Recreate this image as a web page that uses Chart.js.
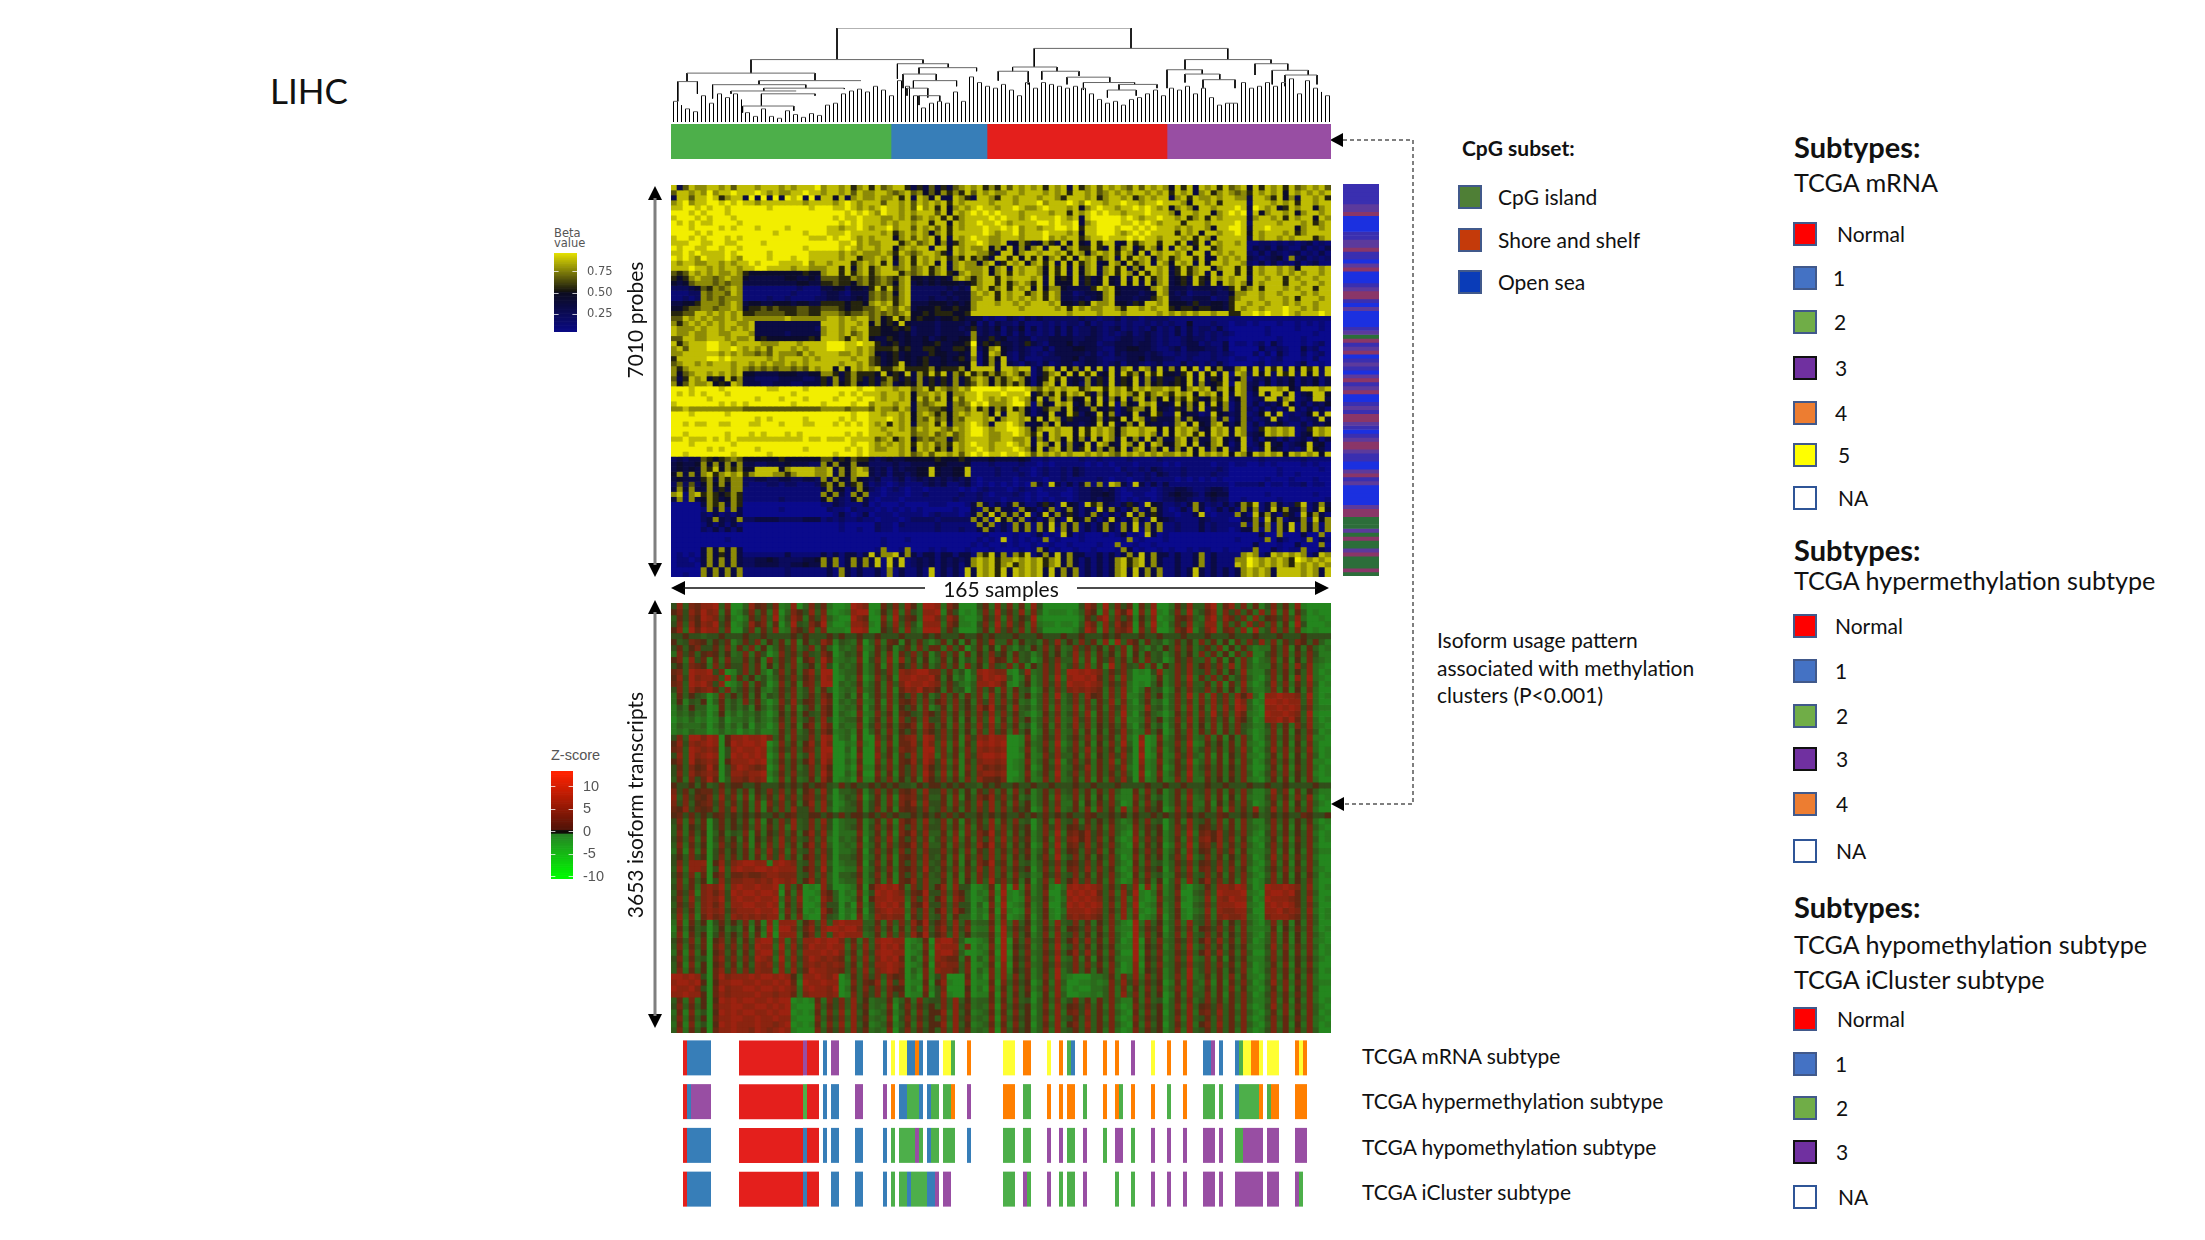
<!DOCTYPE html>
<html>
<head>
<meta charset="utf-8">
<title>LIHC</title>
<script src="https://cdn.jsdelivr.net/npm/chart.js@4/dist/chart.umd.min.js"></script>
<style>
body { margin: 0; background: #fff; }
#page { position: relative; width: 2205px; height: 1240px; overflow: hidden; font-family: Lato, sans-serif; color: #111; }
#page canvas { position: absolute; }
#page svg { position: absolute; left: 0; top: 0; }
.txt { position: absolute; white-space: nowrap; transform: translateY(calc(-50% - 1px)); }
.rot { position: absolute; white-space: nowrap; transform: translate(-50%, -50%) rotate(-90deg); }
.sw { position: absolute; box-sizing: border-box; width: 24px; height: 24px; border: 2px solid #41598b; }
</style>
</head>
<body>
<div id="page">
<svg width="2205" height="1240">
  <g fill="#000">
    <path d="M655 186 l7 14 h-14 z"/><path d="M655 577 l7 -14 h-14 z"/>
    <path d="M655 600 l7 14 h-14 z"/><path d="M655 1028 l7 -14 h-14 z"/>
    <path d="M671 588 l14 -7 v14 z"/><path d="M1329 588 l-14 -7 v14 z"/>
    <path d="M1330 140 l13 -7 v14 z"/><path d="M1331 804 l13 -7 v14 z"/>
  </g>
  <g stroke="#7f7f7f" stroke-width="3">
    <path d="M655 198 V565"/><path d="M655 612 V1016"/>
  </g>
  <path d="M683 588 H925 M1077 588 H1317" stroke="#111" stroke-width="1.6"/>
  <path d="M1343 140 H1413 V804 H1344" fill="none" stroke="#555" stroke-width="1.5" stroke-dasharray="4 3"/>
</svg>
</div>
<script>
// cluster colour bar
const clusterNames = ['Cluster 1', 'Cluster 2', 'Cluster 3', 'Cluster 4'];
const clusterSizes = [55, 24, 45, 41];

// subtype letters: N normal, b blue, g green, p purple, o orange, y yellow
const trackNames = ['TCGA mRNA subtype', 'TCGA hypermethylation subtype', 'TCGA hypomethylation subtype', 'TCGA iCluster subtype'];
const mrnaTrack = [[3,1,'N'],[4,6,'b'],[17,16,'N'],[33,1,'p'],[34,3,'N'],[38,1,'b'],[40,2,'p'],[46,2,'b'],[53,1,'b'],[55,1,'y'],[57,2,'y'],[59,2,'b'],[61,1,'o'],[62,1,'b'],[64,3,'b'],[68,2,'y'],[70,1,'g'],[74,1,'o'],[83,3,'y'],[88,2,'o'],[94,1,'y'],[97,1,'o'],[99,1,'g'],[100,1,'b'],[103,1,'o'],[108,1,'o'],[111,1,'o'],[115,1,'p'],[120,1,'y'],[124,1,'o'],[128,1,'o'],[133,2,'b'],[135,1,'p'],[137,1,'b'],[141,1,'b'],[142,1,'g'],[143,2,'y'],[145,2,'o'],[147,1,'y'],[149,3,'y'],[156,1,'o'],[157,1,'y'],[158,1,'o']];
const hyperTrack = [[3,1,'N'],[4,1,'b'],[5,5,'p'],[17,16,'N'],[33,1,'g'],[34,3,'N'],[38,1,'b'],[40,2,'b'],[46,2,'p'],[53,1,'p'],[55,1,'o'],[57,2,'b'],[59,3,'g'],[62,1,'b'],[64,1,'b'],[65,2,'g'],[68,2,'g'],[70,1,'o'],[74,1,'p'],[83,3,'o'],[88,2,'g'],[94,1,'o'],[97,1,'o'],[99,2,'o'],[103,1,'g'],[108,1,'o'],[111,1,'o'],[112,1,'g'],[115,1,'o'],[120,1,'o'],[124,1,'g'],[128,1,'o'],[133,3,'g'],[137,1,'g'],[141,1,'b'],[142,5,'g'],[147,1,'o'],[149,1,'g'],[150,2,'o'],[156,3,'o']];
const hypoTrack = [[3,1,'N'],[4,6,'b'],[17,16,'N'],[33,1,'b'],[34,3,'N'],[38,1,'b'],[40,2,'b'],[46,2,'b'],[53,1,'b'],[55,1,'g'],[57,4,'g'],[61,1,'p'],[62,1,'g'],[64,1,'b'],[65,2,'g'],[68,3,'g'],[74,1,'b'],[83,3,'g'],[88,2,'g'],[94,1,'p'],[97,1,'p'],[99,2,'g'],[103,1,'p'],[108,1,'g'],[111,2,'p'],[115,1,'g'],[120,1,'p'],[124,1,'p'],[128,1,'p'],[133,3,'p'],[137,1,'p'],[141,2,'g'],[143,5,'p'],[149,3,'p'],[156,3,'p']];
const iclusterTrack = [[3,1,'N'],[4,6,'b'],[17,16,'N'],[33,1,'b'],[34,3,'N'],[40,2,'b'],[46,2,'b'],[53,1,'b'],[55,1,'g'],[57,2,'g'],[59,1,'b'],[60,4,'g'],[64,2,'b'],[66,1,'p'],[68,2,'p'],[83,3,'g'],[88,1,'p'],[89,1,'g'],[94,1,'p'],[97,1,'g'],[99,2,'g'],[103,1,'p'],[111,1,'g'],[115,1,'g'],[120,1,'p'],[124,1,'p'],[128,1,'p'],[133,3,'p'],[137,1,'p'],[141,7,'p'],[149,3,'p'],[156,1,'p'],[157,1,'g']];

// dendrogram: leaf tops and merges [left, right, height, left drop, right drop]
const leafTops = [
  22,22,18,14,14,11,11,28,28,20,
  20,30,30,26,26,30,30,24,10,10,
  6,6,14,14,6,6,4,4,12,12,
  8,8,5,5,9,9,7,7,18,18,
  20,20,30,30,33,33,35,35,32,32,
  38,38,34,34,28,28,44,44,38,38,
  28,28,15,15,20,20,22,22,20,20,
  32,32,22,22,48,48,42,42,38,38,
  36,36,40,40,34,34,28,28,42,42,
  36,36,42,42,40,40,38,38,36,36,
  38,38,36,36,30,30,24,24,20,20,
  22,22,18,18,24,24,26,26,30,30,
  34,34,28,28,36,36,34,34,38,38,
  30,30,36,36,26,26,18,18,20,20,
  20,20,42,42,36,36,38,38,42,42,
  38,38,42,42,46,46,30,30,44,44,
  36,36,32,28,28];
const dendroLinks = [
  [41.5,115,100,66.4,78.3],[20,63,66.4,52,62],[90.8,139.2,78.3,58.5,66.4],[4,36,52,43,44],
  [1.7,6.6,43,22,30],[22,47.5,44,40,44],[10.4,33.7,39.7,25,36],[23.2,43.3,36,33,35],
  [15,31.3,33,30,33],[22.6,36,30,17,28],[17.9,30.7,17,10,12],[56.6,69.3,62,46,58],
  [62,76.4,57.8,51,54],[58,66.3,51,36,44],[60.6,71.4,44,36,38],[59,64.2,36,28,26],
  [62,67.2,28,18,22],[85.4,96.5,58.5,54,54],[81.8,89.3,54,44,40],[92.7,102,54,45,49],
  [99,109.7,47.7,40,42],[103.1,115.9,42,34,40],[112,121.5,40,34,36],[109.1,116.3,34,26,28],
  [128.5,150,66.4,55.6,62],[124,132.8,55.6,36,51],[128.5,137.2,51,42,45],[133,141,45,36,36],
  [146,154.2,62,50,55],[150.3,159.3,55,40,50],[153.5,161.5,50,38,40]];

// beta value cells, 0 = 0.0 (blue) .. 9 = 1.0 (yellow), 110 columns
const betaRows = [
"83687 7887868 8878887878889 78878578 5867885 3536353678 7857586878 78587838578687876868787 4858387858 678 48587858678786",
"68878 7978898 8898787788988 78878687 7887678 6746475758 6878778878 88787858878678787887878 5878378578 767 58787848787878",
"38868 8985788 3939393989393 88483787 7877858 3874833875 3887588788 87887588878578878578788 3785877878 877 38875847388785",
"78978 8998989 8878888888788 88789878 8868878 6878785878 8887888788 89788898798878898878898 8874887858 888 28887878588788",
"88998 9899899 9999899999989 99889878 7898878 6978584787 8988788987 78988878478988788989878 4787488788 898 39878458788478",
"99989 8999899 9999999999999 99998989 8798878 7888684878 9898988878 88878858789898878889888 7488788478 989 28478878478878",
"89998 9899989 9999999999999 99898898 8877878 6787858578 8889898878 98889878389999989878898 8785785878 888 37887858788487",
"98989 8899998 9999999999999 99989898 8878788 7885884878 8988987888 89989889378999988989878 8858887888 898 28888788878578",
"99989 9998989 9989999899999 98878898 7889788 6878685878 8898898978 87889989588999899898988 8787887488 998 38898888478878",
"99998 9899999 9999989999899 98889888 8878578 7874785888 8898788978 88988878488999878989888 8587848878 898 48788878578888",
"89989 8999898 9999999999988 89899878 7888478 6878483878 9887788878 88978788578898889898878 8878587488 888 38788787888578",
"88899 8899889 9998999999999 99988978 7788857 8678473578 8987783475 34753848438588348578858 8583583878 878 11221212123121",
"98998 8998998 9999999999899 99989878 8788478 7883884878 7784748374 78388478558538478358748 3878488578 888 13231321131213",
"88989 8888989 9999899999988 88878787 7787587 6788753878 8775388478 87887858747878587483878 8784883878 788 21313212312131",
"98987 9888987 9999899989988 88878857 7878478 5878785758 5753885848 58478584878578385878478 5788583487 878 32123417231212",
"87887 7887878 8989998888978 87888578 7858378 5878483787 7478358784 78583848578348748578387 4878384887 887 21313121312311",
"88898 8787887 8899888878877 78858478 5788678 6785783787 7784783878 87485838478378583748878 3585788478 858 48788787488878",
"65687 8787787 5444444444544 78858578 5788857 6785785478 7784785878 87485838478378587485878 3585783848 858 48788787878878",
"54578 7767877 4333333443343 66655767 5676578 4434343787 5788587888 78384548353484383848578 3453854878 788 38878858788788",
"43467 7767677 3333333334433 55655467 5676478 3434344434 5788585787 58384448353484384838478 3453853848 787 48788858878878",
"22234 6576787 1111111112111 33442443 5858578 2222223232 8785785878 48477433335878433334787 3332333323 585 78588878788588",
"11122 7677687 1111111121111 23321333 6767478 2222232333 7878587885 78587331233478433323487 3231222322 477 88788788878788",
"11212 7676777 1111211211112 23322343 6767578 2223223233 7788587878 78587332323478333233578 3322333122 578 88788878588878",
"33445 7776787 3443344434433 55554554 7878578 3334443434 7888788787 88878443548778443548878 4443533443 588 78878878788788",
"44566 7767787 4556565556655 66654556 6787687 3444544544 7888888878 88887858787788758878788 5455455443 587 88788898878788",
"55668 8787878 5566666556655 77765667 6767678 4454555445 8888888888 88888878888788878888878 7878788788 558 89898898788898",
"66878 7877878 7777777877777 78878788 6745857 4544344543 3312113213 23222222322122312212222 1111111111 111 11111111111111",
"75787 8787887 7833333333333 88878878 4745484 3333233332 4131322131 11212122131211212112121 2114111211 011 01000100101010",
"87778 7887878 7833333333332 78878788 5544545 2333233323 5232413241 31213131223212312121312 1313122131 000 00010000100010",
"87787 7887788 8733333233333 78878678 5544434 2333233332 7232313131 21213131223212123123212 1313121212 100 00010000000100",
"66887 7888787 7845444444454 88875878 4335434 3342343344 7335342233 12233332233211233223212 1123221211 000 00000100010000",
"85788 8998878 8887778887888 89998898 8534534 3344533445 9354533235 32133342333122333233212 1123312113 011 01203100010120",
"78688 8998898 7878688878788 89998878 7555645 3355433554 8247843232 11313334433211334433211 2313332213 000 00311210031200",
"77888 8887878 7767687776878 88877878 7434534 3335443343 8148742132 12123333323121323332321 1212211212 100 02020310020120",
"58888 8998988 8888787888787 88888788 6534534 3453343453 7147482131 11222334233211223342332 2112111211 011 00101200010200",
"67887 8788878 8787877878788 88878878 6534584 3453343344 8147383213 21312331233212313321231 1131212131 000 01201100130010",
"75788 8888878 7676767767687 88484878 7855785 5557455574 8888388788 13783847383828378387383 7384818473 378 38285828385828",
"74678 8787878 4433334443344 77535755 5484548 3758583758 5757578757 13578484858348385748584 4358384838 187 28482858284828",
"63587 8454857 3322223333223 53735753 5357535 3735353735 7874757874 14585834373538354837353 3548383548 247 13241324132413",
"74687 7845487 3332233322333 53745743 5367345 4735353735 6874757574 14784834273538354837453 4548373458 187 23141324132413",
"99989 9998999 9999889999899 99999989 9888788 6785876787 9999989998 76878788578858785878778 7847878478 487 24888784288878",
"98989 8999899 9999999989999 99989898 8878878 4778784778 8988898889 35758587853748787585787 5878487848 387 13848848134884",
"99999 9899999 9989998999899 99899989 9878878 4868684868 8987878987 48378474484837483784748 4758534758 247 12388378123883",
"89999 9998989 8999999989999 89999899 7888788 3767883767 9897778997 17438783474848174387834 3847483847 137 13132484131324",
"77877 7777777 6666666666666 77776777 6877687 3776653776 8574758574 13577484337435135774843 2537382537 137 21313138213131",
"99989 9999899 9999999999999 99999899 8878878 4787574787 8874838874 13483485243847134834852 2843312843 237 12483812124838",
"99999 9999999 9989899999899 99989899 8889878 4768674768 8878478878 48487353334735484873533 3737433737 137 21238312212383",
"99898 8998899 9889998999889 99898989 8785878 3778583778 9873889873 34748433234848347484332 3784843784 247 13132421131324",
"99999 9999999 9999999999999 99999999 8878878 6878876878 9987889987 47887884858787478878848 4878734878 387 12587878125878",
"99899 9999899 9898999898999 99998989 8887888 6778678678 9987788987 58387884858787478878738 4878584878 387 23487878134878",
"88988 8989898 8888888888988 98889888 8678578 4676773678 8887788778 37387484738487384738473 3784733784 248 13143131231413",
"99989 9999989 9999999999999 99999899 8787878 5878675878 9887889878 38748373483874387483874 4784834784 138 12483412348341",
"99999 9898999 9989999999899 99998989 8778878 4878574878 8987888987 48378473583747483784748 3748483748 238 21384312138431",
"99899 9999989 9999899999999 99899989 8888878 6786887868 9898898898 68787878878787687878787 7878487878 487 48787848787848",
"23233 6545676 4444445444444 66354655 3234334 4444544454 3334333343 11211111211211112111121 1111111111 111 11211111121111",
"34334 7474747 3322333433322 74744744 2222322 3333443334 1112111121 10101111101010111011110 1011111011 011 00101000010100",
"34343 7584757 4488884788887 78374787 3231323 3448433448 1111211211 01211213211111021121321 1121111121 000 00000100000010",
"47373 7857878 5788877578887 78374788 3231332 3448433448 1111211121 01211213211111112112132 1121111211 000 00000100100000",
"34333 5737577 2233223322332 73743743 2311231 2323232323 1011111011 11011211111210110112111 1010101010 000 00010001000100",
"26262 4747477 2111221221112 57473573 1210121 1123231123 1010101010 73183131371718731831313 1111111111 011 11201101120110",
"37373 3735377 1111111111111 37341374 2101210 1101111101 0121110121 10111101223323101111012 2332112332 000 00000000000000",
"78178 5754575 1111111111111 74731747 1101110 1121111121 1210111210 10011001223343100110012 3433213433 000 00010000000100",
"37173 4753475 1111112111111 47321473 1011101 1111111211 1211101110 10101101223233101011012 2332112322 001 00000100000001",
"00000 3757375 0000000000000 11321113 0100010 0001110001 3731313731 13531843185732135318431 1213731213 137 58137312581373",
"00000 1737173 0000001000000 02110211 1010101 0100000100 3174733174 31371373131837313713731 0131730131 317 37138473371384",
"00000 2131213 0000000000000 00131013 0111011 1101211101 3738373738 13837353137313138373531 1011381011 173 18473153184731",
"00000 2373237 2233332222333 12121121 1011101 2222122222 7371847371 31373184373138313731843 2111132111 003 37184713371847",
"00000 1313131 0000000000000 00010000 0211021 1111211111 1737131737 17382737131373173827371 1211131211 117 17371738173717",
"00000 2131313 0000000000000 00010010 0211011 1111211121 1373131737 17381737131373173817371 1211131211 013 37171738173717",
"00000 0000000 0000000000000 00000000 0000000 0000000000 0010000100 13010830100010130108301 0000000000 000 00300700030070",
"00000 0000100 0000000000000 00000000 0010001 0000000000 0101080101 01701000100000017010001 0000000000 010 00170310017031",
"00000 0000000 0000000000000 00000000 0010000 0000000000 1010010100 10010010000100700100100 0000000000 000 03000100300070",
"00000 3737373 0000000000000 00000000 0170017 0001010001 0001000010 17301001001000173010010 1001011001 001 17003101170031",
"01010 3735373 1111111311111 31313313 8377837 3133133133 1758371758 13738373311313137383733 1311371311 117 87138787871387",
"01101 3737373 2233432222334 73713737 3818381 2323132323 7878577878 78578373131313785783731 1311371311 177 98787875987878",
"01110 3737373 2233332233433 73713737 3818381 2323132313 7878578578 78578373131313785783731 1311371311 187 98787875878787",
"00000 7373737 1111111211111 13173131 1317131 1318131318 3878583878 78383737131313783837371 1313831313 137 87873888878738",
"00100 7373737 1111111211111 13173131 1317131 1318131318 3878583878 78383737131313783837371 1313831313 137 87873888878738"];

// isoform z-scores, 0 = -10 (green) .. 9 = +10 (red), 110 columns
const zRows = [
"48376889370 03856471280 37462001987 00647385299 82750004628 37261840000 00486293746 06380026483 37926837261 47362810000",
"57486978260 14736280375 48371012899 01538274288 91640103739 46382730111 01375182859 07291037392 46827473628 38271630100",
"36475987351 02647391486 26483100976 00729465299 73861002648 27354910000 00264793746 15380126573 27938647283 56473820010",
"47385879460 13857260394 37592001887 10638374188 82751104739 38462821101 10386284857 06291036482 38827362847 37261940001",
"58296988370 04726381275 48371110998 00547283299 93640003628 46372730000 01497183768 07380027591 47926738192 48372710100",
"44544344544 45445444454 54445454454 45444544454 54445445454 44544454445 44544454544 45445444544 45444544454 44544454444",
"53476535461 36472536271 53486143260 37265153631 36251526483 36253426483 53746281937 52634136352 73625163748 37264753631",
"46357446372 63725136472 47263032371 26351462736 62736036251 63142537362 37463526371 63142537362 46371526312 26371526312",
"27463565352 37264027463 64375024360 36271647361 47361625374 52634136352 48372635271 52634136352 73625163711 46372637411",
"57284616273 36351736471 57396123270 47281836251 36251426385 62734026473 38271647362 62734026473 37261527302 37261527321",
"45376527364 47361526372 45284032361 36172547362 47361735274 37261537482 47382619374 37261537483 57473827312 26372848210",
"67398894701 47362047362 68399023361 36472878997 73624038987 71048237483 99898736473 01048237483 47362538211 47362538201",
"58497887392 63524136473 57498013270 27361889889 62513027989 83026137392 89989637283 00026137392 63736247310 37261839210",
"67398974801 37264027361 67399032361 36273798898 73642138898 61035137483 98898736472 01035137483 36271638201 48372638301",
"47386786372 46352136472 47263023272 36271687967 52634037362 72634026373 78787627382 02634026373 47362527311 37261527200",
"26354302735 36251436372 46375024160 36372547362 47362637283 62735137392 47385627381 13735137392 72847385820 88988739201",
"25143503624 27362027483 56386032371 26172657373 57373527483 73623037372 47372638272 03623037372 73847397301 99898838200",
"14253301624 24153136271 46275023260 36271546271 36273538594 62834137282 38273627482 12834137282 62838498310 88989847211",
"13242302513 13242025362 54375032171 27361654375 47362637483 73632026372 47381637392 03632026372 73947386210 98898739100",
"02131201402 23142136372 46384023360 36271746384 47261527392 62735137382 38472637281 12735137382 63736275301 88979638201",
"13222302413 14032027361 57286032271 47362657286 36272638483 73624036272 48372536372 03624036272 52726374311 47362748210",
"12132201312 02131126372 46375123160 36272546375 47362527384 62735026382 37261526483 12735026382 63726374201 37261537301",
"47399798058 89889736273 47398023060 07361678398 47361748798 80017136482 46372636282 08017136482 37261527301 47362638110",
"58487898059 89989027362 58497002171 08271668497 38271639898 90016237391 37261527393 09016237391 26352627210 37261527200",
"67398787048 98898136473 67399003060 07262767399 37262738787 80027136382 47382636274 08027136382 47362638301 48372638201",
"48397898049 89898027272 48398002070 08361648398 27361748998 90016127483 36271537483 09016127483 27161537210 36271527301",
"57396787058 88989136363 58497003160 07271658497 48271637887 80127136391 47362638273 08127136391 37261627301 47362537110",
"46375696047 98767027362 47385002071 16372647385 47361738676 70126026482 36482637482 07126026482 46362537200 36271637201",
"47386787048 87889136373 47396003160 07261647396 38271637887 80027136392 47372636373 08027136392 37362637301 47372537101",
"36274696037 76878027262 36285012071 16372536285 47362738665 70126127382 36271627484 07126127382 26352537210 36261527200",
"54453534645 54454445454 54564364544 54545443545 54545443545 44544544544 45445444544 44544544544 45445444544 54454444544",
"74635664736 36254747362 57384033461 47363657384 47362526473 62735136373 47362637311 62735136373 47362637311 38471625311",
"83746573847 27163638473 67473024370 36271767473 36271537584 73624136282 37261527211 73624136282 37261527211 47362738201",
"74735674736 36271747362 58384013461 46272758384 46273638483 62735136372 26152637301 62735136372 26152637301 36271527310",
"65846563748 36271637384 47383023361 47261656473 47362637483 73645027382 36271736282 73645027382 36271736382 48372637200",
"56464545645 45454454564 45545464554 54645445454 54645445454 54454546454 54465445453 54454546454 54465445453 45454465445",
"47273604635 36271537483 47384023361 36271757383 47261636382 63734036283 47263536312 63734036283 46372627311 47362536201",
"36254604635 46372637283 47374023461 47362747374 47362726483 73645037483 56473627321 73645037483 56473627321 37261527310",
"37263503524 37162547362 58483022271 36271758483 36271737594 72635137392 67584637310 72635137392 67584637310 47362537201",
"46372604635 26153638473 47372032360 47382647372 47382627483 83746136283 78584726201 83746136283 78584726201 36271637301",
"37263503746 37162738362 58483023271 36273658483 36273638594 72635027392 67483637310 72635027392 67483637310 47362537200",
"26172604635 36273847273 47374022360 47362747374 47362726483 63746136283 56374726211 63746136283 56374726211 37261527311",
"45374504736 36262748362 57484033461 36271657484 36271637483 72635147392 47362537301 72635147392 47362537301 48372637200",
"47388805847 89988189873 47383023360 47261647383 47261527594 62734136473 56473627310 62734136473 56473627310 37261527300",
"38288704938 98899898883 57494012271 36372657494 36372638483 73645037382 67483736201 73645037382 67483736201 46372637210",
"46372605736 67667887773 47373033461 47261647373 47261627483 62734126473 47362637310 62734126473 47362637310 37261526301",
"37263504847 78878798783 58483023371 36271658483 36271527394 73625037283 58473627201 73625037283 58473627201 47362537200",
"47362787938 98898891736 01084001260 58989627483 58284401260 80817136102 89898736373 80817136102 36388798301 98898738201",
"36471786849 89989980627 00175302171 49898736594 47375302171 91026137003 98989637284 91026137003 47398889210 89989637300",
"47383787948 98898892738 01086301260 58898827483 58286301260 81017236102 89898736382 81017236102 38287988301 98887638201",
"36472786838 89988981637 00174403071 48989716594 47374403071 90126137003 98989837283 90126137003 47388899210 89898637300",
"47362787847 88898892736 01085402160 47898827483 58385402160 81017136102 88898736382 81017136102 38287788300 88978738201",
"38271686738 78787881627 10074302071 38787716483 47263302071 70126036103 78787637282 70126036103 47278778210 78887637301",
"27163504635 37261818882 57383898883 36273738594 57383623361 82735137283 47362537310 92735137283 47362537310 37261527300",
"16253403524 26152919973 68489989973 47362627483 68484712270 93646036372 56473627211 93646036372 56473627211 26152637201",
"27163504635 37261808882 57383898882 36273738594 57383523361 92735137283 47362537310 92735137283 47362537310 37261527310",
"46372605736 26389938273 88989973627 38998801260 89973001260 90637236483 58483627301 90637236483 58483627301 37261527210",
"37263606847 37498829384 79889882738 37989702171 98882702171 91546137392 47362536211 91546137392 47362536211 48372637301",
"26172505736 26389938273 88898973627 48998801260 89973001260 90637236483 58483627300 90637236483 58483627300 37261627201",
"47263406847 37498729384 79878762738 37989603171 87662603171 91546137392 37261536211 91546137392 37261536211 47362536310",
"36172505736 26387838273 78787873627 48898701260 78773701260 80637236483 47373627301 80637236483 47373627301 36271527200",
"37263506847 37487728384 69887763738 37898603171 87763703171 81546136392 47362537201 81546136392 47362537201 47362636301",
"99898406978 88989989852 88987902637 47375602071 47000602071 82736137392 10002236273 82736137392 36262726210 37261527200",
"89989505889 98898898961 98898801736 58284701160 58100701160 73645026283 00112127384 73645026283 27161637301 48372637211",
"98897406978 89989989872 89887902637 47375502071 47000502071 62736137382 01002237272 62736137382 36262726210 36271527300",
"88988506878 88898878862 78887801736 47274601160 48100601160 72635026283 00112137283 72635026283 37261637301 47362637200",
"36272505989 89988989901 01627473835 23361362734 47383523361 62734036372 47362637311 62734036372 47362637311 37261527201",
"47363506889 98899898910 00736473846 23270473645 37384623270 73645137283 56473627201 73645137283 56473627201 48372637310",
"26172405989 89988989901 01627382835 12361362735 58283512361 62735036382 67483637310 62735036382 67483637310 36271527301",
"37263506889 98898898810 00736473846 23270473645 37384623270 73645137283 46373627201 73645137283 46373627201 47362637210",
"26172405989 88898878901 01627382835 12361362735 58283512361 62735036382 57383637310 62735036382 57383637310 37261527201",
"37263506889 88798789810 00736473846 23270473645 37384623270 73645137283 46373627201 73645137283 46373627201 47362637300"];

// CpG annotation strip, one letter per row: b open sea, i/p mixed, m shore, g island
const cpgStrip = 'iiiiippmbbbbiippmiibpmbbbipmmibpbbbbipgmipmbipibpmipmbbipimmpibipmmpiibbpmipbbbbbpmmgggpgmggpmgggmg';
const betaTicks = [0.25, 0.5, 0.75];
const zTicks = [-10, -5, 0, 5, 10];

// legend texts
const cpgNames = ['CpG island', 'Shore and shelf', 'Open sea'];
const mrnaLegend = ['Normal', '1', '2', '3', '4', '5', 'NA'];
const hyperLegend = ['Normal', '1', '2', '3', '4', 'NA'];
const hypoLegend = ['Normal', '1', '2', '3', 'NA'];

const page = document.getElementById('page');
const trackColors = { N: '#e41f1c', b: '#377eb8', g: '#4daf4a', p: '#984ea3', o: '#ff7f00', y: '#ffff33' };
const clusterColors = ['#4daf4a', '#377eb8', '#e41f1c', '#984ea3'];
const swatchColors = { Normal: '#ff0000', 1: '#4472c4', 2: '#70ad47', 3: '#7030a0', 4: '#ed7d31', 5: '#ffff00', NA: '#ffffff' };
const cpgColors = { b: '#1b30e0', i: '#3a2fb0', p: '#5c3a9c', m: '#8a3668', g: '#2c6e3a' };

function rgb(c) { return [parseInt(c.slice(1, 3), 16), parseInt(c.slice(3, 5), 16), parseInt(c.slice(5, 7), 16)]; }
function mix(a, b, t) {
  const x = rgb(a), y = rgb(b);
  return 'rgb(' + x.map((v, i) => Math.round(v + (y[i] - v) * t)).join(',') + ')';
}
// beta 0..1: blue - black - yellow
function betaColor(v) {
  return v < 0.5 ? mix('#0a0a8c', '#0c0c20', v * 2) : mix('#0c0c10', '#f2ee00', (v - 0.5) * 2);
}
// z -10..10: green - black - red
function zColor(z) {
  if (z < -0.3) return mix('#2a7a28', '#00f800', Math.min(1, -z / 10));
  if (z < 0.3) return '#100c08';
  return mix('#4a1208', '#ff2200', Math.min(1, z / 13));
}
// heat map cells are softer than the key, the mid digits stay olive
function zCell(d) {
  return d < 4.5 ? mix('#24861e', '#34461a', d / 4.5) : mix('#4a2a12', '#9c2210', (d - 4.5) / 4.5);
}

function addChart(x, y, w, h, config) {
  const c = document.createElement('canvas');
  c.width = w; c.height = h;
  c.style.left = x + 'px'; c.style.top = y + 'px';
  c.style.width = w + 'px'; c.style.height = h + 'px';
  page.appendChild(c);
  config.options = Object.assign({
    responsive: false, animation: false, devicePixelRatio: 1,
    plugins: { legend: { display: false }, tooltip: { enabled: false } }
  }, config.options);
  return new Chart(c, config);
}

function txt(x, y, s, size, bold) {
  const d = document.createElement('div');
  d.className = 'txt';
  d.style.left = x + 'px'; d.style.top = y + 'px';
  d.style.fontSize = size + 'px';
  if (bold) d.style.fontWeight = 'bold';
  d.textContent = s;
  page.appendChild(d);
  return d;
}
function swatch(x, y, color, border) {
  const d = document.createElement('div');
  d.className = 'sw';
  d.style.left = x + 'px'; d.style.top = (y - 12) + 'px';
  d.style.background = color;
  if (border) d.style.borderColor = border;
  page.appendChild(d);
}

// heat map: stacked bars, one dataset per row
function heatmap(x, y, w, h, rows, colorOf) {
  const cells = rows.map(r => r.replace(/ /g, ''));
  const nCols = Math.max(...cells.map(r => r.length));
  const labels = Array.from({ length: nCols }, (_, i) => i);
  addChart(x, y, w, h, {
    type: 'bar',
    data: {
      labels: labels,
      datasets: cells.map(r => ({
        data: labels.map(() => 1),
        backgroundColor: labels.map(i => colorOf(+(r[i] || 4))),
        categoryPercentage: 1, barPercentage: 1
      }))
    },
    options: {
      scales: {
        x: { display: false, stacked: true },
        y: { display: false, stacked: true, reverse: true, min: 0, max: cells.length }
      }
    }
  });
}

// dendrogram
const vertPts = [], horzPts = [];
const gap = { x: NaN, y: NaN };
leafTops.forEach((t, i) => {
  vertPts.push({ x: i + 0.625, y: 0 }, { x: i + 0.625, y: t }, gap);
  if (leafTops[i + 1] === t) horzPts.push({ x: i + 0.625, y: t }, { x: i + 1.625, y: t }, gap);
});
dendroLinks.forEach(l => {
  horzPts.push({ x: l[0], y: l[2] }, { x: l[1], y: l[2] }, gap);
  vertPts.push({ x: l[0], y: l[2] }, { x: l[0], y: l[3] }, gap);
  vertPts.push({ x: l[1], y: l[2] }, { x: l[1], y: l[4] }, gap);
});
addChart(671, 28, 660, 94, {
  type: 'scatter',
  data: {
    datasets: [
      { data: horzPts, showLine: true, borderColor: '#666', borderWidth: 1, pointRadius: 0 },
      { data: vertPts, showLine: true, borderColor: '#000', borderWidth: 1, pointRadius: 0 }
    ]
  },
  options: {
    scales: {
      x: { display: false, type: 'linear', min: 0, max: 165 },
      y: { display: false, min: 0, max: 100 }
    }
  }
});

// cluster bar
addChart(671, 124, 660, 35, {
  type: 'bar',
  data: {
    labels: ['clusters'],
    datasets: clusterSizes.map((n, i) => ({
      label: clusterNames[i], data: [n], backgroundColor: clusterColors[i],
      categoryPercentage: 1, barPercentage: 1
    }))
  },
  options: {
    indexAxis: 'y',
    scales: {
      x: { display: false, stacked: true, min: 0, max: 165 },
      y: { display: false, stacked: true }
    }
  }
});

heatmap(671, 185, 660, 392, betaRows, d => betaColor(d / 9));
heatmap(671, 603, 660, 430, zRows, zCell);

// CpG strip
addChart(1343, 184, 36, 392, {
  type: 'bar',
  data: {
    labels: ['CpG'],
    datasets: cpgStrip.split('').map(k => ({
      data: [1], backgroundColor: cpgColors[k], categoryPercentage: 1, barPercentage: 1
    }))
  },
  options: {
    scales: {
      x: { display: false, stacked: true },
      y: { display: false, stacked: true, reverse: true, min: 0, max: cpgStrip.length }
    }
  }
});

// subtype tracks
const tracks = [mrnaTrack, hyperTrack, hypoTrack, iclusterTrack];
const trackSets = [];
tracks.forEach((segs, t) => segs.forEach(s => {
  trackSets.push({
    data: trackNames.map((_, k) => (k === t ? [s[0], s[0] + s[1]] : null)),
    backgroundColor: trackColors[s[2]],
    categoryPercentage: 0.8, barPercentage: 1
  });
}));
addChart(671, 1036, 660, 175, {
  type: 'bar',
  data: { labels: trackNames, datasets: trackSets },
  options: {
    indexAxis: 'y',
    scales: {
      x: { display: false, stacked: false, min: 0, max: 165 },
      y: { display: false, stacked: true }
    }
  }
});

// colour keys: a stack of thin bars on a value axis with labelled ticks
function colorKey(x, y, w, h, barW, lo, hi, ticks, colorOf, fmt, fontFamily, fontSize, dash) {
  const steps = 60, sets = [], pad = 8; // pad keeps the last label inside the canvas
  for (let i = 0; i < steps; i++) {
    const a = lo + (hi - lo) * i / steps, b = lo + (hi - lo) * (i + 1) / steps;
    sets.push({ data: [[a, b]], backgroundColor: colorOf((a + b) / 2), categoryPercentage: 1, barPercentage: 1 });
  }
  addChart(x, y, w, h + pad, {
    type: 'bar',
    data: { labels: ['key'], datasets: sets },
    options: {
      layout: { padding: { bottom: pad } },
      scales: {
        x: { display: false, stacked: true },
        y: {
          position: 'right', stacked: false, min: lo, max: hi,
          afterFit: s => { s.width = w - barW; s.paddingTop = 0; s.paddingBottom = 0; },
          afterBuildTicks: s => { s.ticks = ticks.map(v => ({ value: v })); },
          grid: { color: 'rgba(255,255,255,0.75)', z: 1, drawTicks: false },
          border: { display: false, dash: dash },
          ticks: { color: '#555', padding: 10, font: { family: fontFamily, size: fontSize }, callback: fmt }
        }
      }
    }
  });
}
colorKey(554, 253, 78, 79, 23, 0.036, 0.976, betaTicks, betaColor, v => v.toFixed(2), 'DejaVu Sans', 11.5, [4.6, 13.8]);
colorKey(551, 771, 58, 108, 22, -10.45, 13.5, zTicks, zColor, v => String(v), 'Liberation Sans', 14.5, [4.4, 13.2]);

// key titles
let t = txt(554, 234, 'Beta', 11.5); t.style.fontFamily = 'DejaVu Sans'; t.style.color = '#555';
t = txt(554, 244, 'value', 11.5); t.style.fontFamily = 'DejaVu Sans'; t.style.color = '#555';
t = txt(551, 756, 'Z-score', 14.5); t.style.fontFamily = 'Liberation Sans'; t.style.color = '#555';

// plain text
txt(270, 91, 'LIHC', 35);
const b = txt(925, 589, '165 samples', 21);
b.style.width = '152px'; b.style.textAlign = 'center';
['7010 probes', '3653 isoform transcripts'].forEach((s, i) => {
  const d = document.createElement('div');
  d.className = 'rot';
  d.style.left = '634px'; d.style.top = (i ? 805 : 320) + 'px';
  d.style.fontSize = '21px';
  d.textContent = s;
  page.appendChild(d);
});
trackNames.forEach((s, i) => txt(1362, [1056, 1101, 1147, 1192][i], s, 21));
['Isoform usage pattern', 'associated with methylation', 'clusters (P<0.001)'].forEach((s, i) => txt(1437, 640 + i * 27.5, s, 21));

// CpG legend
txt(1462, 148, 'CpG subset:', 21, true);
const cpgSwatch = ['#4f7f36', '#c43a0a', '#0a3cb8'];
cpgNames.forEach((s, i) => {
  const y = [197, 240, 282][i];
  swatch(1458, y, cpgSwatch[i]);
  txt(1498, y, s, 21);
});

// subtype legends
function subtypeLegend(names, ys, xs) {
  names.forEach((s, i) => {
    swatch(1793, ys[i], swatchColors[s], s === '3' ? '#111' : (s === 'NA' ? '#2f5597' : null));
    txt(xs[i], ys[i], s, 21);
  });
}
txt(1794, 147, 'Subtypes:', 29, true);
txt(1794, 183, 'TCGA mRNA', 25.2);
subtypeLegend(mrnaLegend, [234, 278, 322, 368, 413, 455, 498], [1837, 1833, 1834, 1835, 1835, 1838, 1838]);
txt(1794, 550, 'Subtypes:', 29, true);
txt(1794, 581, 'TCGA hypermethylation subtype', 25.2);
subtypeLegend(hyperLegend, [626, 671, 716, 759, 804, 851], [1835, 1835, 1836, 1836, 1836, 1836]);
txt(1794, 907, 'Subtypes:', 29, true);
txt(1794, 945, 'TCGA hypomethylation subtype', 25.2);
txt(1794, 980, 'TCGA iCluster subtype', 25.2);
subtypeLegend(hypoLegend, [1019, 1064, 1108, 1152, 1197], [1837, 1835, 1836, 1836, 1838]);
</script>
</body>
</html>
